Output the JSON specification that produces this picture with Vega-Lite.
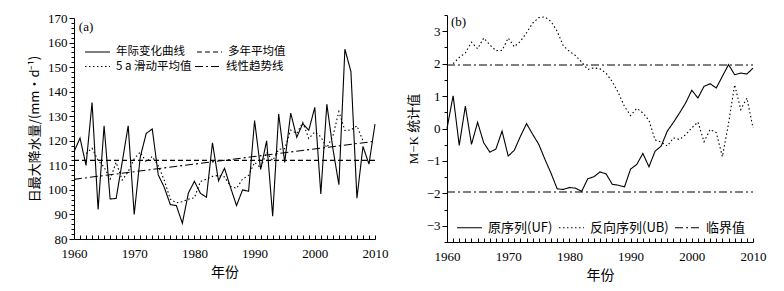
{
  "$schema": "https://vega.github.io/schema/vega-lite/v6.json",
  "padding": {"left": 28, "top": 9, "right": 5, "bottom": 5},
  "background": "white",
  "bounds": "flush",
  "center": true,
  "resolve": {"scale": {"strokeDash": "independent"}, "legend": {"strokeDash": "independent"}},
  "config": {
    "view": {"stroke": null},
    "axis": {"domainColor": "black", "tickColor": "black", "labelColor": "black", "titleColor": "black", "labelFont": "Liberation Serif", "labelFontSize": 13, "titleFont": "Noto Sans CJK SC", "titleFontSize": 13, "titleFontWeight": "normal", "grid": false, "domainWidth": 1, "tickWidth": 1, "tickCount": 200},
    "legend": {"labelFont": "Noto Sans CJK SC", "labelColor": "black", "symbolStrokeColor": "black", "symbolStrokeWidth": 1.2, "symbolType": "stroke"}
  },
  "datasets": {
    "a1": [
      {"year":1960,"value":115.5,"series":"年际变化曲线"},{"year":1961,"value":121.1,"series":"年际变化曲线"},{"year":1962,"value":110,"series":"年际变化曲线"},{"year":1963,"value":135.6,"series":"年际变化曲线"},{"year":1964,"value":92,"series":"年际变化曲线"},{"year":1965,"value":126.1,"series":"年际变化曲线"},{"year":1966,"value":96.3,"series":"年际变化曲线"},{"year":1967,"value":96.5,"series":"年际变化曲线"},{"year":1968,"value":111.2,"series":"年际变化曲线"},{"year":1969,"value":126.1,"series":"年际变化曲线"},
      {"year":1970,"value":90,"series":"年际变化曲线"},{"year":1971,"value":113.3,"series":"年际变化曲线"},{"year":1972,"value":123,"series":"年际变化曲线"},{"year":1973,"value":124.8,"series":"年际变化曲线"},{"year":1974,"value":106.1,"series":"年际变化曲线"},{"year":1975,"value":101,"series":"年际变化曲线"},{"year":1976,"value":94,"series":"年际变化曲线"},{"year":1977,"value":93.6,"series":"年际变化曲线"},{"year":1978,"value":86.4,"series":"年际变化曲线"},{"year":1979,"value":98.7,"series":"年际变化曲线"},
      {"year":1980,"value":103.5,"series":"年际变化曲线"},{"year":1981,"value":98.6,"series":"年际变化曲线"},{"year":1982,"value":97,"series":"年际变化曲线"},{"year":1983,"value":119.2,"series":"年际变化曲线"},{"year":1984,"value":103.7,"series":"年际变化曲线"},{"year":1985,"value":108.8,"series":"年际变化曲线"},{"year":1986,"value":101,"series":"年际变化曲线"},{"year":1987,"value":93.6,"series":"年际变化曲线"},{"year":1988,"value":100,"series":"年际变化曲线"},{"year":1989,"value":99.4,"series":"年际变化曲线"},
      {"year":1990,"value":128.2,"series":"年际变化曲线"},{"year":1991,"value":108.3,"series":"年际变化曲线"},{"year":1992,"value":120,"series":"年际变化曲线"},{"year":1993,"value":89.3,"series":"年际变化曲线"},{"year":1994,"value":130.9,"series":"年际变化曲线"},{"year":1995,"value":111.2,"series":"年际变化曲线"},{"year":1996,"value":131.3,"series":"年际变化曲线"},{"year":1997,"value":121.4,"series":"年际变化曲线"},{"year":1998,"value":127,"series":"年际变化曲线"},{"year":1999,"value":124.3,"series":"年际变化曲线"},
      {"year":2000,"value":133.6,"series":"年际变化曲线"},{"year":2001,"value":98.3,"series":"年际变化曲线"},{"year":2002,"value":134.9,"series":"年际变化曲线"},{"year":2003,"value":116.9,"series":"年际变化曲线"},{"year":2004,"value":102.1,"series":"年际变化曲线"},{"year":2005,"value":157.3,"series":"年际变化曲线"},{"year":2006,"value":148.2,"series":"年际变化曲线"},{"year":2007,"value":96.6,"series":"年际变化曲线"},{"year":2008,"value":117.7,"series":"年际变化曲线"},{"year":2009,"value":110.5,"series":"年际变化曲线"},{"year":2010,"value":126.8,"series":"年际变化曲线"},
      {"year":1960,"value":112,"series":"多年平均值"},{"year":2010,"value":112,"series":"多年平均值"}
    ],
    "a2": [
      {"year":1960,"value":104.3,"series":"线性趋势线"},{"year":2010,"value":119.8,"series":"线性趋势线"},
      {"year":1962,"value":114.8,"series":"5 a 滑动平均值"},{"year":1963,"value":117.0,"series":"5 a 滑动平均值"},{"year":1964,"value":112.0,"series":"5 a 滑动平均值"},{"year":1965,"value":109.3,"series":"5 a 滑动平均值"},{"year":1966,"value":104.4,"series":"5 a 滑动平均值"},{"year":1967,"value":111.2,"series":"5 a 滑动平均值"},{"year":1968,"value":104.0,"series":"5 a 滑动平均值"},{"year":1969,"value":107.4,"series":"5 a 滑动平均值"},
      {"year":1970,"value":112.7,"series":"5 a 滑动平均值"},{"year":1971,"value":115.4,"series":"5 a 滑动平均值"},{"year":1972,"value":111.4,"series":"5 a 滑动平均值"},{"year":1973,"value":113.6,"series":"5 a 滑动平均值"},{"year":1974,"value":109.8,"series":"5 a 滑动平均值"},{"year":1975,"value":103.9,"series":"5 a 滑动平均值"},{"year":1976,"value":96.2,"series":"5 a 滑动平均值"},{"year":1977,"value":94.7,"series":"5 a 滑动平均值"},{"year":1978,"value":95.2,"series":"5 a 滑动平均值"},{"year":1979,"value":96.2,"series":"5 a 滑动平均值"},
      {"year":1980,"value":96.8,"series":"5 a 滑动平均值"},{"year":1981,"value":103.4,"series":"5 a 滑动平均值"},{"year":1982,"value":104.4,"series":"5 a 滑动平均值"},{"year":1983,"value":105.5,"series":"5 a 滑动平均值"},{"year":1984,"value":105.9,"series":"5 a 滑动平均值"},{"year":1985,"value":105.3,"series":"5 a 滑动平均值"},{"year":1986,"value":101.4,"series":"5 a 滑动平均值"},{"year":1987,"value":100.6,"series":"5 a 滑动平均值"},{"year":1988,"value":104.4,"series":"5 a 滑动平均值"},{"year":1989,"value":105.9,"series":"5 a 滑动平均值"},
      {"year":1990,"value":111.2,"series":"5 a 滑动平均值"},{"year":1991,"value":109.0,"series":"5 a 滑动平均值"},{"year":1992,"value":115.3,"series":"5 a 滑动平均值"},{"year":1993,"value":111.9,"series":"5 a 滑动平均值"},{"year":1994,"value":116.5,"series":"5 a 滑动平均值"},{"year":1995,"value":116.8,"series":"5 a 滑动平均值"},{"year":1996,"value":124.4,"series":"5 a 滑动平均值"},{"year":1997,"value":123.0,"series":"5 a 滑动平均值"},{"year":1998,"value":127.5,"series":"5 a 滑动平均值"},{"year":1999,"value":120.9,"series":"5 a 滑动平均值"},
      {"year":2000,"value":123.6,"series":"5 a 滑动平均值"},{"year":2001,"value":121.6,"series":"5 a 滑动平均值"},{"year":2002,"value":117.2,"series":"5 a 滑动平均值"},{"year":2003,"value":121.9,"series":"5 a 滑动平均值"},{"year":2004,"value":131.9,"series":"5 a 滑动平均值"},{"year":2005,"value":124.2,"series":"5 a 滑动平均值"},{"year":2006,"value":124.4,"series":"5 a 滑动平均值"},{"year":2007,"value":126.1,"series":"5 a 滑动平均值"},{"year":2008,"value":120.0,"series":"5 a 滑动平均值"}
    ],
    "b": [
      {"year":1960,"value":0,"series":"原序列(UF)","g":"uf"},{"year":1961,"value":1.01,"series":"原序列(UF)","g":"uf"},{"year":1962,"value":-0.52,"series":"原序列(UF)","g":"uf"},{"year":1963,"value":0.69,"series":"原序列(UF)","g":"uf"},{"year":1964,"value":-0.49,"series":"原序列(UF)","g":"uf"},{"year":1965,"value":0.19,"series":"原序列(UF)","g":"uf"},{"year":1966,"value":-0.44,"series":"原序列(UF)","g":"uf"},{"year":1967,"value":-0.73,"series":"原序列(UF)","g":"uf"},{"year":1968,"value":-0.63,"series":"原序列(UF)","g":"uf"},{"year":1969,"value":-0.08,"series":"原序列(UF)","g":"uf"},
      {"year":1970,"value":-0.85,"series":"原序列(UF)","g":"uf"},{"year":1971,"value":-0.67,"series":"原序列(UF)","g":"uf"},{"year":1972,"value":-0.24,"series":"原序列(UF)","g":"uf"},{"year":1973,"value":0.15,"series":"原序列(UF)","g":"uf"},{"year":1974,"value":-0.18,"series":"原序列(UF)","g":"uf"},{"year":1975,"value":-0.49,"series":"原序列(UF)","g":"uf"},{"year":1976,"value":-0.95,"series":"原序列(UF)","g":"uf"},{"year":1977,"value":-1.38,"series":"原序列(UF)","g":"uf"},{"year":1978,"value":-1.86,"series":"原序列(UF)","g":"uf"},{"year":1979,"value":-1.88,"series":"原序列(UF)","g":"uf"},
      {"year":1980,"value":-1.82,"series":"原序列(UF)","g":"uf"},{"year":1981,"value":-1.84,"series":"原序列(UF)","g":"uf"},{"year":1982,"value":-1.94,"series":"原序列(UF)","g":"uf"},{"year":1983,"value":-1.55,"series":"原序列(UF)","g":"uf"},{"year":1984,"value":-1.49,"series":"原序列(UF)","g":"uf"},{"year":1985,"value":-1.34,"series":"原序列(UF)","g":"uf"},{"year":1986,"value":-1.40,"series":"原序列(UF)","g":"uf"},{"year":1987,"value":-1.72,"series":"原序列(UF)","g":"uf"},{"year":1988,"value":-1.75,"series":"原序列(UF)","g":"uf"},{"year":1989,"value":-1.80,"series":"原序列(UF)","g":"uf"},
      {"year":1990,"value":-1.25,"series":"原序列(UF)","g":"uf"},{"year":1991,"value":-1.11,"series":"原序列(UF)","g":"uf"},{"year":1992,"value":-0.77,"series":"原序列(UF)","g":"uf"},{"year":1993,"value":-1.18,"series":"原序列(UF)","g":"uf"},{"year":1994,"value":-0.70,"series":"原序列(UF)","g":"uf"},{"year":1995,"value":-0.54,"series":"原序列(UF)","g":"uf"},{"year":1996,"value":-0.08,"series":"原序列(UF)","g":"uf"},{"year":1997,"value":0.19,"series":"原序列(UF)","g":"uf"},{"year":1998,"value":0.48,"series":"原序列(UF)","g":"uf"},{"year":1999,"value":0.79,"series":"原序列(UF)","g":"uf"},
      {"year":2000,"value":1.18,"series":"原序列(UF)","g":"uf"},{"year":2001,"value":0.94,"series":"原序列(UF)","g":"uf"},{"year":2002,"value":1.30,"series":"原序列(UF)","g":"uf"},{"year":2003,"value":1.38,"series":"原序列(UF)","g":"uf"},{"year":2004,"value":1.25,"series":"原序列(UF)","g":"uf"},{"year":2005,"value":1.61,"series":"原序列(UF)","g":"uf"},{"year":2006,"value":1.97,"series":"原序列(UF)","g":"uf"},{"year":2007,"value":1.66,"series":"原序列(UF)","g":"uf"},{"year":2008,"value":1.71,"series":"原序列(UF)","g":"uf"},{"year":2009,"value":1.68,"series":"原序列(UF)","g":"uf"},{"year":2010,"value":1.86,"series":"原序列(UF)","g":"uf"},
      {"year":1961,"value":2.0,"series":"反向序列(UB)","g":"ub"},{"year":1962,"value":2.19,"series":"反向序列(UB)","g":"ub"},{"year":1963,"value":2.33,"series":"反向序列(UB)","g":"ub"},{"year":1964,"value":2.66,"series":"反向序列(UB)","g":"ub"},{"year":1965,"value":2.46,"series":"反向序列(UB)","g":"ub"},{"year":1966,"value":2.79,"series":"反向序列(UB)","g":"ub"},{"year":1967,"value":2.58,"series":"反向序列(UB)","g":"ub"},{"year":1968,"value":2.40,"series":"反向序列(UB)","g":"ub"},{"year":1969,"value":2.41,"series":"反向序列(UB)","g":"ub"},
      {"year":1970,"value":2.79,"series":"反向序列(UB)","g":"ub"},{"year":1971,"value":2.52,"series":"反向序列(UB)","g":"ub"},{"year":1972,"value":2.69,"series":"反向序列(UB)","g":"ub"},{"year":1973,"value":2.95,"series":"反向序列(UB)","g":"ub"},{"year":1974,"value":3.25,"series":"反向序列(UB)","g":"ub"},{"year":1975,"value":3.42,"series":"反向序列(UB)","g":"ub"},{"year":1976,"value":3.44,"series":"反向序列(UB)","g":"ub"},{"year":1977,"value":3.3,"series":"反向序列(UB)","g":"ub"},{"year":1978,"value":3.0,"series":"反向序列(UB)","g":"ub"},{"year":1979,"value":2.55,"series":"反向序列(UB)","g":"ub"},
      {"year":1980,"value":2.38,"series":"反向序列(UB)","g":"ub"},{"year":1981,"value":2.25,"series":"反向序列(UB)","g":"ub"},{"year":1982,"value":2.05,"series":"反向序列(UB)","g":"ub"},{"year":1983,"value":1.82,"series":"反向序列(UB)","g":"ub"},{"year":1984,"value":1.87,"series":"反向序列(UB)","g":"ub"},{"year":1985,"value":1.84,"series":"反向序列(UB)","g":"ub"},{"year":1986,"value":1.70,"series":"反向序列(UB)","g":"ub"},{"year":1987,"value":1.45,"series":"反向序列(UB)","g":"ub"},{"year":1988,"value":1.10,"series":"反向序列(UB)","g":"ub"},{"year":1989,"value":0.68,"series":"反向序列(UB)","g":"ub"},
      {"year":1990,"value":0.40,"series":"反向序列(UB)","g":"ub"},{"year":1991,"value":0.62,"series":"反向序列(UB)","g":"ub"},{"year":1992,"value":0.48,"series":"反向序列(UB)","g":"ub"},{"year":1993,"value":0.25,"series":"反向序列(UB)","g":"ub"},{"year":1994,"value":-0.35,"series":"反向序列(UB)","g":"ub"},{"year":1995,"value":-0.42,"series":"反向序列(UB)","g":"ub"},{"year":1996,"value":-0.54,"series":"反向序列(UB)","g":"ub"},{"year":1997,"value":-0.29,"series":"反向序列(UB)","g":"ub"},{"year":1998,"value":-0.34,"series":"反向序列(UB)","g":"ub"},{"year":1999,"value":-0.19,"series":"反向序列(UB)","g":"ub"},
      {"year":2000,"value":0.02,"series":"反向序列(UB)","g":"ub"},{"year":2001,"value":0.20,"series":"反向序列(UB)","g":"ub"},{"year":2002,"value":-0.41,"series":"反向序列(UB)","g":"ub"},{"year":2003,"value":-0.03,"series":"反向序列(UB)","g":"ub"},{"year":2004,"value":-0.13,"series":"反向序列(UB)","g":"ub"},{"year":2005,"value":-0.87,"series":"反向序列(UB)","g":"ub"},{"year":2006,"value":0.15,"series":"反向序列(UB)","g":"ub"},{"year":2007,"value":1.35,"series":"反向序列(UB)","g":"ub"},{"year":2008,"value":0.58,"series":"反向序列(UB)","g":"ub"},{"year":2009,"value":0.94,"series":"反向序列(UB)","g":"ub"},{"year":2010,"value":0.02,"series":"反向序列(UB)","g":"ub"},
      {"year":1960,"value":1.96,"series":"临界值","g":"c1"},{"year":2010,"value":1.96,"series":"临界值","g":"c1"},
      {"year":1960,"value":-1.96,"series":"临界值","g":"c2"},{"year":2010,"value":-1.96,"series":"临界值","g":"c2"}
    ],
    "labA": [{"year":1960.8,"value":166.3,"t":"(a)"}],
    "labB": [{"year":1960.65,"value":3.27,"t":"(b)"}]
  },
  "hconcat": [
    {
      "width": 301, "height": 221,
      "resolve": {"scale": {"strokeDash": "independent"}, "legend": {"strokeDash": "independent"}},
      "encoding": {
        "x": {"field": "year", "type": "quantitative", "scale": {"domain": [1960, 2010], "nice": false, "zero": false},
              "axis": {"title": "年份", "titleFontSize": 14, "tickCount": 200, "values": [1960,1961,1962,1963,1964,1965,1966,1967,1968,1969,1970,1971,1972,1973,1974,1975,1976,1977,1978,1979,1980,1981,1982,1983,1984,1985,1986,1987,1988,1989,1990,1991,1992,1993,1994,1995,1996,1997,1998,1999,2000,2001,2002,2003,2004,2005,2006,2007,2008,2009,2010],
                       "format": "d", "labelExpr": "datum.value % 10 === 0 ? datum.label : ''", "labelFlush": false, "labelOverlap": false, "tickSize": -4, "labelPadding": 12.5, "titlePadding": 4.5}},
        "y": {"field": "value", "type": "quantitative", "scale": {"domain": [80, 170], "nice": false, "zero": false},
              "axis": {"title": "日最大降水量/(mm·d⁻¹)", "tickCount": 200, "values": [80,82,84,86,88,90,92,94,96,98,100,102,104,106,108,110,112,114,116,118,120,122,124,126,128,130,132,134,136,138,140,142,144,146,148,150,152,154,156,158,160,162,164,166,168,170],
                       "labelExpr": "datum.value % 10 === 0 ? toString(datum.value) : ''", "labelOverlap": false,
                       "tickSize": {"condition": {"test": "datum.value % 10 === 0", "value": 5}, "value": 3}, "labelPadding": 2, "titlePadding": 6}}
      },
      "layer": [
        {
          "data": {"name": "a1"},
          "mark": {"type": "line", "color": "black", "strokeWidth": 1.1},
          "encoding": {
            "strokeDash": {"field": "series", "type": "nominal",
                           "scale": {"domain": ["年际变化曲线", "多年平均值"], "range": [[1, 0], [5, 3]]},
                           "legend": {"orient": "none", "legendX": 10, "legendY": 20.5, "direction": "horizontal", "title": null, "symbolSize": 625, "labelFontSize": 11.5, "columnPadding": 9, "labelOffset": 5}}
          }
        },
        {
          "data": {"name": "a2"},
          "mark": {"type": "line", "color": "black", "strokeWidth": 1.1},
          "encoding": {
            "strokeDash": {"field": "series", "type": "nominal",
                           "scale": {"domain": ["5 a 滑动平均值", "线性趋势线"], "range": [[1.5, 2.5], [8, 3, 2, 3]]},
                           "legend": {"orient": "none", "legendX": 10, "legendY": 35, "direction": "horizontal", "title": null, "symbolSize": 625, "labelFontSize": 11.5, "columnPadding": 0, "labelOffset": 5}}
          }
        },
        {
          "data": {"name": "labA"},
          "mark": {"type": "text", "align": "left", "baseline": "middle", "font": "Liberation Serif", "fontSize": 13, "color": "black"},
          "encoding": {"text": {"field": "t"}}
        }
      ]
    },
    {
      "width": 306, "height": 227,
      "encoding": {
        "x": {"field": "year", "type": "quantitative", "scale": {"domain": [1960, 2010], "nice": false, "zero": false},
              "axis": {"title": "年份", "titleFontSize": 14, "tickCount": 200, "values": [1960,1961,1962,1963,1964,1965,1966,1967,1968,1969,1970,1971,1972,1973,1974,1975,1976,1977,1978,1979,1980,1981,1982,1983,1984,1985,1986,1987,1988,1989,1990,1991,1992,1993,1994,1995,1996,1997,1998,1999,2000,2001,2002,2003,2004,2005,2006,2007,2008,2009,2010],
                       "format": "d", "labelExpr": "datum.value % 10 === 0 ? datum.label : ''", "labelFlush": false, "labelOverlap": false, "tickSize": -4, "labelPadding": 12.5, "titlePadding": 4.5}},
        "y": {"field": "value", "type": "quantitative", "scale": {"domain": [-3.5, 3.5], "nice": false, "zero": false},
              "axis": {"title": "M−K 统计值", "titleFont": "Liberation Serif, Noto Sans CJK SC", "tickCount": 200, "values": [-3.5,-3,-2.5,-2,-1.5,-1,-0.5,0,0.5,1,1.5,2,2.5,3,3.5],
                       "labelExpr": "datum.value % 1 === 0 ? replace(toString(datum.value), '-', '−') : ''", "labelOverlap": false,
                       "tickSize": {"condition": {"test": "datum.value % 1 === 0", "value": 5}, "value": 3}, "labelPadding": 2, "titlePadding": 6}}
      },
      "layer": [
        {
          "data": {"name": "b"},
          "mark": {"type": "line", "color": "black", "strokeWidth": 1.1},
          "encoding": {
            "strokeDash": {"field": "series", "type": "nominal",
                           "scale": {"domain": ["原序列(UF)", "反向序列(UB)", "临界值"], "range": [[1, 0], [1.5, 2.5], [8, 3, 2, 3]]},
                           "legend": {"orient": "none", "legendX": 9, "legendY": 199, "direction": "horizontal", "title": null, "symbolSize": 625, "labelFontSize": 13, "columnPadding": 3, "labelOffset": 5}},
            "detail": {"field": "g", "type": "nominal"}
          }
        },
        {
          "data": {"name": "labB"},
          "mark": {"type": "text", "align": "left", "baseline": "middle", "font": "Liberation Serif", "fontSize": 13, "color": "black"},
          "encoding": {"text": {"field": "t"}}
        }
      ]
    }
  ],
  "spacing": 72
}
